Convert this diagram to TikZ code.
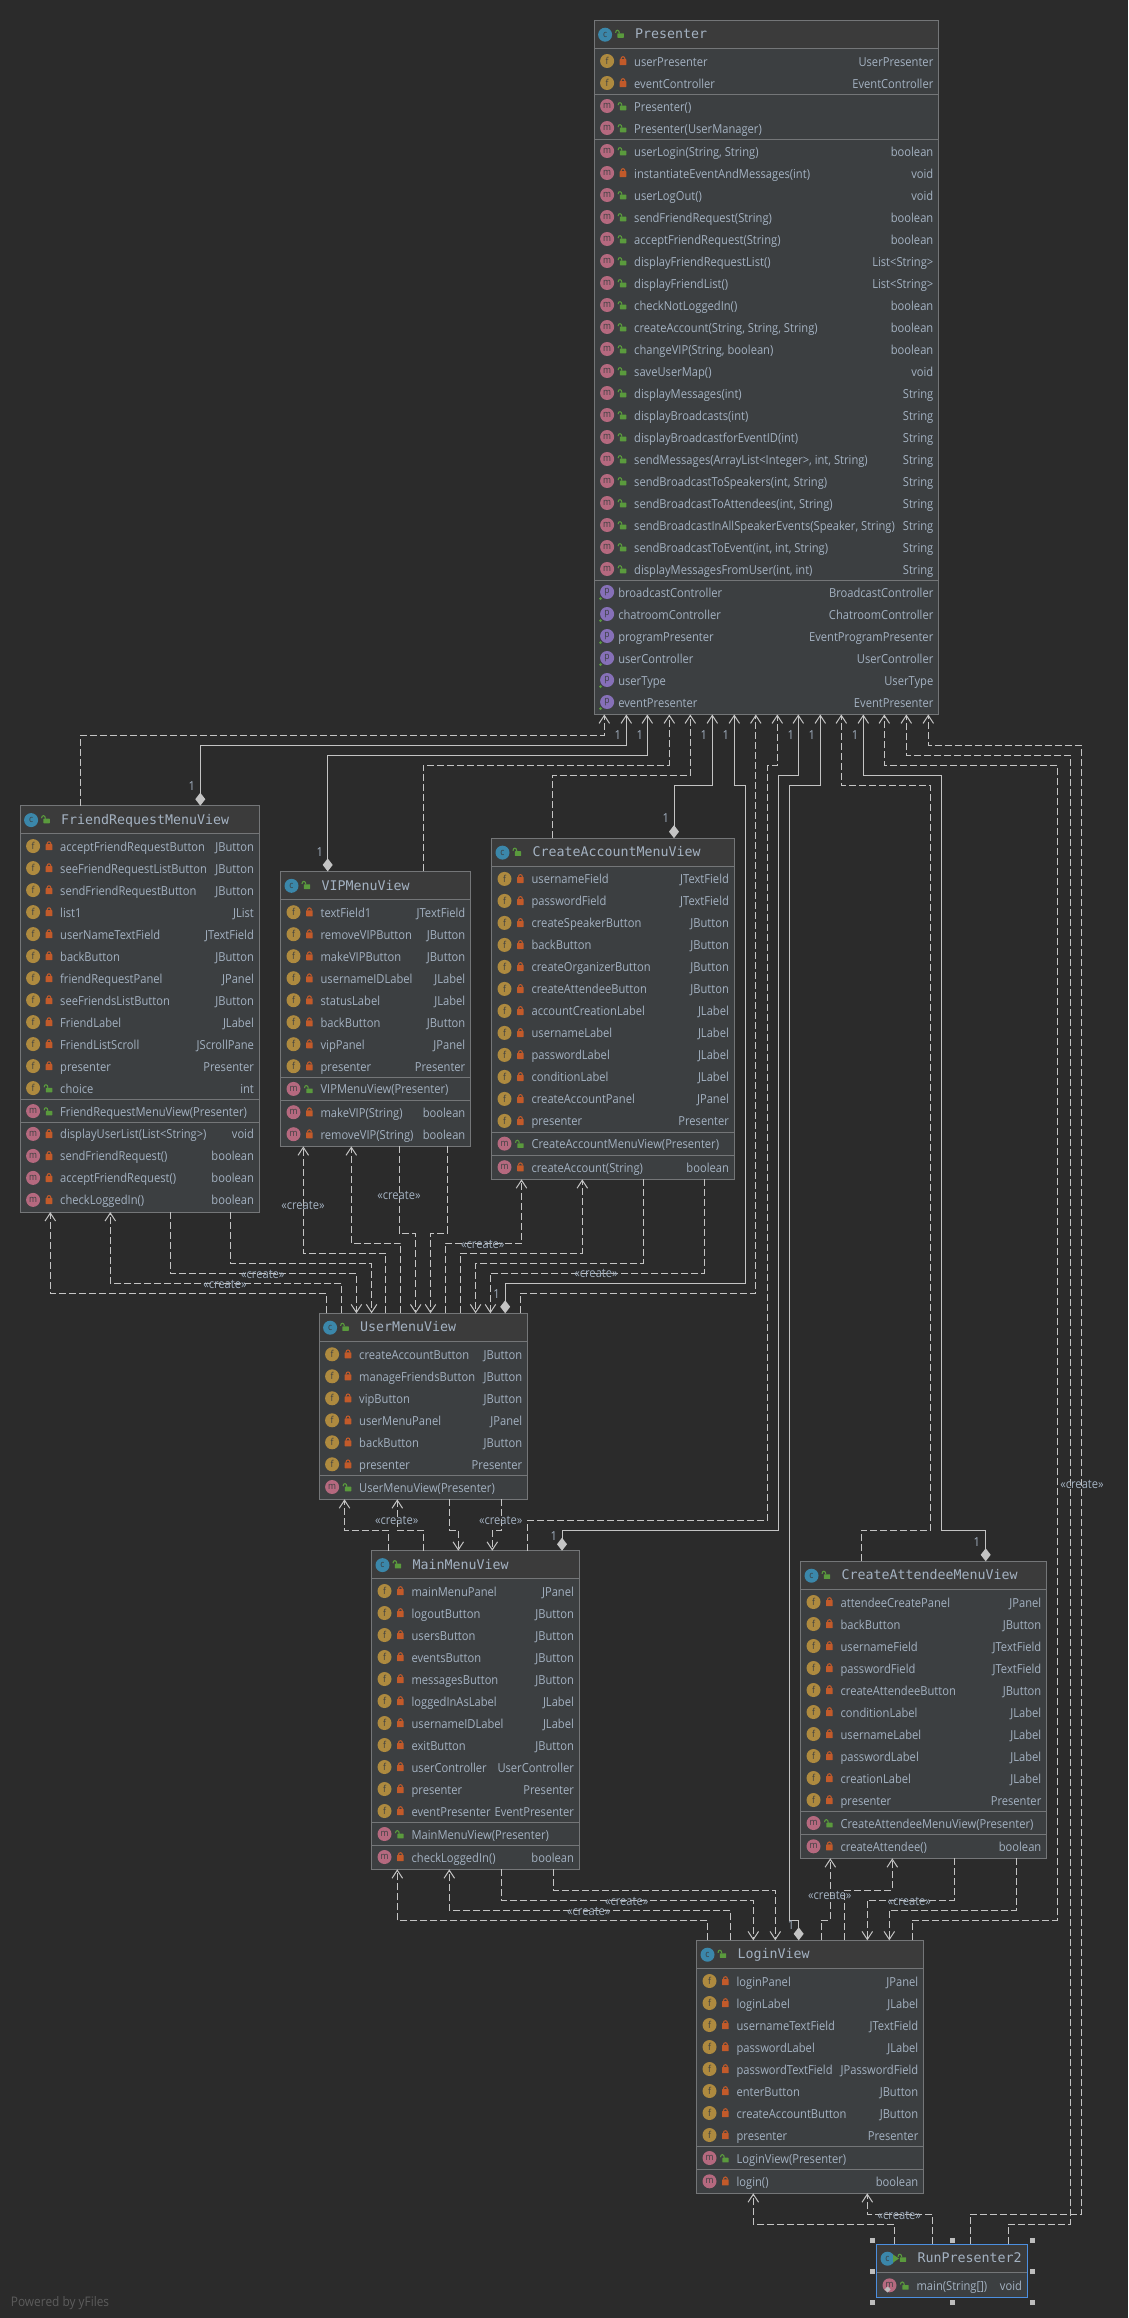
\documentclass[tikz,border=0pt]{standalone}
\usepackage{fontspec}
\setmainfont[FakeStretch=0.9]{Open Sans}
\newfontfamily\titlefont{DejaVu Sans Mono}
\usetikzlibrary{arrows.meta}
\definecolor{bgc}{HTML}{2B2B2B}
\definecolor{bodyc}{HTML}{3C3F41}
\definecolor{headc}{HTML}{3B3B3B}
\definecolor{borderc}{HTML}{747678}
\definecolor{textc}{HTML}{A4B2C2}
\definecolor{edgec}{HTML}{C4C4C4}
\definecolor{footc}{HTML}{5C5C5C}
\definecolor{ficonc}{HTML}{AE8A3F}
\definecolor{miconc}{HTML}{B5697F}
\definecolor{piconc}{HTML}{8670B8}
\definecolor{ciconc}{HTML}{3B87AA}
\definecolor{lockr}{HTML}{C25A2A}
\definecolor{lockg}{HTML}{5A9A3D}
\definecolor{selc}{HTML}{4C8FE0}
\definecolor{handc}{HTML}{BDBDBD}
\newcommand\bodyfont{\fontsize{12.4}{14}\selectfont}
\tikzset{
  x=1pt,y=-1pt,
  classbox/.style={draw=borderc,fill=bodyc,line width=1pt,inner sep=0pt,outer sep=0pt},
  sepline/.style={draw=borderc,line width=1pt},
  rowtext/.style={text=textc,inner sep=0pt,outer sep=0pt,font=\bodyfont},
  titletext/.style={text=textc,inner sep=0pt,outer sep=0pt,anchor=base west,font=\titlefont\fontsize{13.3}{15}\selectfont},
  iconbase/.style={circle,minimum size=14pt,inner sep=0pt,outer sep=0pt,text=bodyc,font=\fontsize{9.5}{10}\selectfont},
  ficon/.style={iconbase,fill=ficonc},
  micon/.style={iconbase,fill=miconc},
  picon/.style={iconbase,fill=piconc},
  cicon/.style={iconbase,fill=ciconc},
  dep/.style={draw=edgec,line width=1pt,dash pattern=on 7pt off 3pt,-{Straight Barb[length=8pt,width=10.5pt,line width=1pt]}},
  comp/.style={draw=edgec,line width=1pt,{Diamond[length=13pt,width=10pt,fill=edgec,line width=0pt]}-{Straight Barb[length=8pt,width=10.5pt,line width=1pt]}},
  edgelabel/.style={text=textc,inner sep=0pt,font=\bodyfont},
  handle/.style={fill=handc,minimum size=5pt,inner sep=0pt,outer sep=0pt},
}
\newcounter{rowid}
\newcommand\lockpri[2]{\begin{scope}[shift={(#1,#2)}]
  \fill[lockr,rounded corners=0.5pt] (-3.3,-2.6) rectangle (3.3,3.4);
  \draw[lockr,line width=1.1pt] (-2,-2.6) .. controls (-2,-5.8) and (2,-5.8) .. (2,-2.6);
\end{scope}}
\newcommand\lockpub[2]{\begin{scope}[shift={(#1,#2)}]
  \fill[lockg,rounded corners=0.5pt] (-2.8,-1) rectangle (3.6,3.6);
  \draw[lockg,line width=1.1pt] (-0.8,-1) .. controls (-0.8,-5) and (-4.6,-5) .. (-4.6,-1.5);
\end{scope}}
\newcommand\vislock[2]{\ifnum#1=0 \lockpri{\bl+28.7}{#2}\else \lockpub{\bl+28.4}{#2}\fi}
\newcommand\nextrow{\pgfmathparse{\ry+22}\xdef\ry{\pgfmathresult}}
\newcommand\setrow[1]{\xdef\ry{#1}}
\newcommand\rowtexts[3]{\stepcounter{rowid}%
  \node[rowtext,anchor=base west] (a\arabic{rowid}) at (\bl+#1,\ry+4.3) {#2};
  \node[rowtext,anchor=base east] (b\arabic{rowid}) at (\br-5.4,\ry+4.3) {#3};}
\newcommand\rF[3]{\rowtexts{39.9}{#2}{#3}
  \node[ficon] (i\arabic{rowid}) at (\bl+12.8,\ry-0.7) {f};
  \vislock{#1}{\ry}\nextrow}
\newcommand\rM[3]{\rowtexts{39.9}{#2}{#3}
  \node[micon] (i\arabic{rowid}) at (\bl+12.8,\ry-0.7) {m};
  \vislock{#1}{\ry}\nextrow}
\newcommand\rP[2]{\rowtexts{24}{#1}{#2}
  \node[picon] (i\arabic{rowid}) at (\bl+12.8,\ry-0.7) {p};
  \fill[lockg] (\bl+6.2,\ry+6) circle (1.5);\nextrow}
\newcommand\umlclass[7]{%
  \pgfmathsetmacro\bw{#3-#2}\pgfmathsetmacro\bh{#6-#4}%
  \node[classbox,anchor=north west,minimum width=\bw pt,minimum height=\bh pt] (#1) at (#2,#4) {};
  \fill[headc] (#2,#4) rectangle (#3,#5);
  \draw[borderc,line width=1pt] (#2,#4) rectangle (#3,#6);
  \draw[sepline] (#2,#5) -- (#3,#5);
  \xdef\bl{#2}\xdef\br{#3}%
  \node[cicon] (#1icon) at (\bl+10.8,#4+14.4) {c};
  \lockpub{\bl+25.9}{#4+14}
  \node[titletext] (#1title) at (\bl+40.8,#4+18.6) {#7};}
\newcommand\sepat[1]{\draw[sepline] (\bl,#1) -- (\br,#1);}
\newcommand\portT[3]{\coordinate (#1) at (#2,0 |- #3.north);}
\newcommand\portB[3]{\coordinate (#1) at (#2,0 |- #3.south);}
\newcommand\route[4]{\draw[#1] (#2) -- (#2 |- 0,#3) -- (#4 |- 0,#3) -- (#4);}
\newcommand\routeV[6]{\draw[#1] (#2) -- (#2 |- 0,#3) -- (#4,#3) -- (#4,#5) -- (#6 |- 0,#5) -- (#6);}
\newcommand\createlabel[3]{\node[edgelabel] (#1) at (#2,#3) {«create»};}
\newcommand\onelabel[3]{\node[edgelabel] (#1) at (#2,#3) {1};}
\begin{document}
\begin{tikzpicture}
\useasboundingbox (0,0) rectangle (1128,2318);
\fill[bgc] (0,0) rectangle (1128,2318);
% Classes
\umlclass{P}{594.3}{938.7}{20.3}{48.3}{714.5}{Presenter}
\setrow{61.7}
\rF{0}{userPresenter}{UserPresenter}
\rF{0}{eventController}{EventController}
\sepat{94.3}
\setrow{106.7}
\rM{1}{Presenter()}{}
\rM{1}{Presenter(UserManager)}{}
\sepat{139}
\setrow{151.7}
\rM{1}{userLogin(String, String)}{boolean}
\rM{0}{instantiateEventAndMessages(int)}{void}
\rM{1}{userLogOut()}{void}
\rM{1}{sendFriendRequest(String)}{boolean}
\rM{1}{acceptFriendRequest(String)}{boolean}
\rM{1}{displayFriendRequestList()}{List<String>}
\rM{1}{displayFriendList()}{List<String>}
\rM{1}{checkNotLoggedIn()}{boolean}
\rM{1}{createAccount(String, String, String)}{boolean}
\rM{1}{changeVIP(String, boolean)}{boolean}
\rM{1}{saveUserMap()}{void}
\rM{1}{displayMessages(int)}{String}
\rM{1}{displayBroadcasts(int)}{String}
\rM{1}{displayBroadcastforEventID(int)}{String}
\rM{1}{sendMessages(ArrayList<Integer>, int, String)}{String}
\rM{1}{sendBroadcastToSpeakers(int, String)}{String}
\rM{1}{sendBroadcastToAttendees(int, String)}{String}
\rM{1}{sendBroadcastInAllSpeakerEvents(Speaker, String)}{String}
\rM{1}{sendBroadcastToEvent(int, int, String)}{String}
\rM{1}{displayMessagesFromUser(int, int)}{String}
\sepat{580.7}
\setrow{592.7}
\rP{broadcastController}{BroadcastController}
\rP{chatroomController}{ChatroomController}
\rP{programPresenter}{EventProgramPresenter}
\rP{userController}{UserController}
\rP{userType}{UserType}
\rP{eventPresenter}{EventPresenter}

\umlclass{FR}{20.3}{259.3}{805.7}{833.6}{1212.1}{FriendRequestMenuView}
\setrow{846.8}
\rF{0}{acceptFriendRequestButton}{JButton}
\rF{0}{seeFriendRequestListButton}{JButton}
\rF{0}{sendFriendRequestButton}{JButton}
\rF{0}{list1}{JList}
\rF{0}{userNameTextField}{JTextField}
\rF{0}{backButton}{JButton}
\rF{0}{friendRequestPanel}{JPanel}
\rF{0}{seeFriendsListButton}{JButton}
\rF{0}{FriendLabel}{JLabel}
\rF{0}{FriendListScroll}{JScrollPane}
\rF{0}{presenter}{Presenter}
\rF{1}{choice}{int}
\sepat{1099.3}
\setrow{1111.8}
\rM{1}{FriendRequestMenuView(Presenter)}{}
\sepat{1122.5}
\setrow{1134.6}
\rM{0}{displayUserList(List<String>)}{void}
\rM{0}{sendFriendRequest()}{boolean}
\rM{0}{acceptFriendRequest()}{boolean}
\rM{0}{checkLoggedIn()}{boolean}

\umlclass{V}{280.7}{470.7}{871.4}{899.3}{1146.4}{VIPMenuView}
\setrow{912.9}
\rF{0}{textField1}{JTextField}
\rF{0}{removeVIPButton}{JButton}
\rF{0}{makeVIPButton}{JButton}
\rF{0}{usernameIDLabel}{JLabel}
\rF{0}{statusLabel}{JLabel}
\rF{0}{backButton}{JButton}
\rF{0}{vipPanel}{JPanel}
\rF{0}{presenter}{Presenter}
\sepat{1077.1}
\setrow{1089.6}
\rM{1}{VIPMenuView(Presenter)}{}
\sepat{1100.4}
\setrow{1112.9}
\rM{0}{makeVIP(String)}{boolean}
\rM{0}{removeVIP(String)}{boolean}

\umlclass{C}{491.7}{734.3}{838.2}{866.4}{1179.3}{CreateAccountMenuView}
\setrow{879.6}
\rF{0}{usernameField}{JTextField}
\rF{0}{passwordField}{JTextField}
\rF{0}{createSpeakerButton}{JButton}
\rF{0}{backButton}{JButton}
\rF{0}{createOrganizerButton}{JButton}
\rF{0}{createAttendeeButton}{JButton}
\rF{0}{accountCreationLabel}{JLabel}
\rF{0}{usernameLabel}{JLabel}
\rF{0}{passwordLabel}{JLabel}
\rF{0}{conditionLabel}{JLabel}
\rF{0}{createAccountPanel}{JPanel}
\rF{0}{presenter}{Presenter}
\sepat{1132.5}
\setrow{1144.3}
\rM{1}{CreateAccountMenuView(Presenter)}{}
\sepat{1155.7}
\setrow{1167.9}
\rM{0}{createAccount(String)}{boolean}

\umlclass{U}{319.3}{527.6}{1313.3}{1341.7}{1499.3}{UserMenuView}
\setrow{1355}
\rF{0}{createAccountButton}{JButton}
\rF{0}{manageFriendsButton}{JButton}
\rF{0}{vipButton}{JButton}
\rF{0}{userMenuPanel}{JPanel}
\rF{0}{backButton}{JButton}
\rF{0}{presenter}{Presenter}
\sepat{1475.7}
\setrow{1487.7}
\rM{1}{UserMenuView(Presenter)}{}

\umlclass{M}{371.7}{579.3}{1550.7}{1578.7}{1869.3}{MainMenuView}
\setrow{1591.7}
\rF{0}{mainMenuPanel}{JPanel}
\rF{0}{logoutButton}{JButton}
\rF{0}{usersButton}{JButton}
\rF{0}{eventsButton}{JButton}
\rF{0}{messagesButton}{JButton}
\rF{0}{loggedInAsLabel}{JLabel}
\rF{0}{usernameIDLabel}{JLabel}
\rF{0}{exitButton}{JButton}
\rF{0}{userController}{UserController}
\rF{0}{presenter}{Presenter}
\rF{0}{eventPresenter}{EventPresenter}
\sepat{1822.3}
\setrow{1834.7}
\rM{1}{MainMenuView(Presenter)}{}
\sepat{1845.7}
\setrow{1857.7}
\rM{0}{checkLoggedIn()}{boolean}

\umlclass{A}{800.7}{1046.7}{1561.3}{1589.3}{1858.3}{CreateAttendeeMenuView}
\setrow{1602.7}
\rF{0}{attendeeCreatePanel}{JPanel}
\rF{0}{backButton}{JButton}
\rF{0}{usernameField}{JTextField}
\rF{0}{passwordField}{JTextField}
\rF{0}{createAttendeeButton}{JButton}
\rF{0}{conditionLabel}{JLabel}
\rF{0}{usernameLabel}{JLabel}
\rF{0}{passwordLabel}{JLabel}
\rF{0}{creationLabel}{JLabel}
\rF{0}{presenter}{Presenter}
\sepat{1811.3}
\setrow{1823.7}
\rM{1}{CreateAttendeeMenuView(Presenter)}{}
\sepat{1834.3}
\setrow{1847}
\rM{0}{createAttendee()}{boolean}

\umlclass{L}{696.7}{923.7}{1940.3}{1968.3}{2193.3}{LoginView}
\setrow{1981.7}
\rF{0}{loginPanel}{JPanel}
\rF{0}{loginLabel}{JLabel}
\rF{0}{usernameTextField}{JTextField}
\rF{0}{passwordLabel}{JLabel}
\rF{0}{passwordTextField}{JPasswordField}
\rF{0}{enterButton}{JButton}
\rF{0}{createAccountButton}{JButton}
\rF{0}{presenter}{Presenter}
\sepat{2146.3}
\setrow{2158.7}
\rM{1}{LoginView(Presenter)}{}
\sepat{2169.3}
\setrow{2182}
\rM{0}{login()}{boolean}

\umlclass{R}{876.7}{1027.3}{2244.3}{2272.3}{2297.3}{RunPresenter2}
\draw[selc,line width=1pt] (876.7,2244.3) rectangle (1027.3,2297.3);
\fill[lockg] (893,2254.5) -- (893,2262.5) -- (899,2258.5) -- cycle;
\setrow{2286}
\rM{1}{main(String[])}{void}
\fill[handc] (884.7,2289.5) -- (887.7,2286.5) -- (890.7,2289.5) -- (887.7,2292.5) -- cycle;
\foreach \hx/\hy [count=\hi] in {872.3/2240.3,952.3/2240.3,1032.3/2240.3,872.3/2271.3,1032.3/2271.3,872.3/2302.3,952.3/2302.3,1032.3/2302.3}
  {\node[handle] (h\hi) at (\hx,\hy) {};}

% Ports on Presenter
\foreach \pk/\px in {1/604.3,2/626.3,3/647.3,4/669.3,5/690.3,6/712.3,7/734.3,8/755.8,9/777.3,10/798.3,11/820.3,12/841.3,13/863.3,14/884.3,15/906.3,16/928.3}
  {\portB{pa\pk}{\px}{P}}
% Ports on the others
\portT{frU}{80.3}{FR}\portT{frD}{200.3}{FR}
\portB{fra}{50.3}{FR}\portB{frb}{110.3}{FR}\portB{frc}{170.3}{FR}\portB{frd}{230.3}{FR}
\portT{vD}{327.7}{V}\portT{vU}{423.3}{V}
\portB{va}{303.3}{V}\portB{vb}{351.3}{V}\portB{vc}{399.3}{V}\portB{vd}{447.3}{V}
\portT{cU}{552.3}{C}\portT{cD}{674}{C}
\portB{ca}{521.5}{C}\portB{cb}{582.3}{C}\portB{cc}{643.3}{C}\portB{cd}{704.3}{C}
\portT{u1}{326.1}{U}\portT{u2}{341.3}{U}\portT{u3}{356.4}{U}\portT{u4}{371.6}{U}
\portT{u5}{385.7}{U}\portT{u6}{400.5}{U}\portT{u7}{415.7}{U}\portT{u8}{430.5}{U}
\portT{u9}{445.3}{U}\portT{u10}{460.4}{U}\portT{u11}{475.6}{U}\portT{u12}{490.4}{U}
\portT{uD}{505.2}{U}\portT{uU}{520.4}{U}
\portB{ua}{344.5}{U}\portB{ub}{397.3}{U}\portB{uc}{449.6}{U}\portB{ud}{501.6}{U}
\portT{m1}{388.3}{M}\portT{m2}{423.3}{M}\portT{m3}{458.3}{M}\portT{m4}{492.3}{M}
\portT{mU}{527.3}{M}\portT{mD}{562}{M}
\portB{ma}{397.3}{M}\portB{mb}{449.3}{M}\portB{mc}{501.3}{M}\portB{md}{553.3}{M}
\portT{aU}{861.3}{A}\portT{aD}{985.7}{A}
\portB{aa}{830.3}{A}\portB{ab}{892.3}{A}\portB{ac}{954.3}{A}\portB{ad}{1016.3}{A}
\portT{l1}{707.3}{L}\portT{l2}{730.3}{L}\portT{l3}{753.3}{L}\portT{l4}{775.3}{L}
\portT{lD}{798.7}{L}\portT{l5}{821.3}{L}\portT{l6}{844.3}{L}\portT{l7}{867.3}{L}
\portT{l8}{889.3}{L}\portT{lU}{912.3}{L}
\portB{la}{753.3}{L}\portB{lb}{867.3}{L}
\portT{r1}{894.3}{R}\portT{r2}{932.3}{R}\portT{rU2}{970.3}{R}\portT{rU1}{1008.3}{R}

% Connectors to Presenter
\route{dep}{frU}{735.4}{pa1}
\route{comp}{frD}{745.4}{pa2}
\route{comp}{vD}{755.4}{pa3}
\route{dep}{vU}{765.4}{pa4}
\route{dep}{cU}{775.4}{pa5}
\route{comp}{cD}{785.4}{pa6}
\routeV{comp}{uD}{1283.3}{745.7}{785.4}{pa7}
\route{dep}{uU}{1293.3}{pa8}
\routeV{dep}{mU}{1520.3}{767.3}{765.4}{pa9}
\routeV{comp}{mD}{1530.3}{778.3}{775.4}{pa10}
\routeV{comp}{lD}{1920.3}{789.3}{785.4}{pa11}
\routeV{dep}{aU}{1530.3}{930.7}{785.4}{pa12}
\routeV{comp}{aD}{1530.3}{941.3}{775.4}{pa13}
\routeV{dep}{lU}{1920.3}{1057.3}{765.4}{pa14}
\routeV{dep}{rU1}{2224.3}{1070.3}{755.4}{pa15}
\routeV{dep}{rU2}{2214.3}{1081.7}{745.4}{pa16}
% Around UserMenuView
\route{dep}{u1}{1293.3}{fra}
\route{dep}{u2}{1283.3}{frb}
\route{dep}{frc}{1273.3}{u3}
\route{dep}{frd}{1263.3}{u4}
\route{dep}{u5}{1253.3}{va}
\route{dep}{u6}{1243.3}{vb}
\route{dep}{vc}{1233.3}{u7}
\route{dep}{vd}{1233.3}{u8}
\route{dep}{u9}{1243.3}{ca}
\route{dep}{u10}{1253.3}{cb}
\route{dep}{cc}{1263.3}{u11}
\route{dep}{cd}{1273.3}{u12}
\route{dep}{m1}{1530.3}{ua}
\route{dep}{m2}{1530.3}{ub}
\route{dep}{uc}{1530.3}{m3}
\route{dep}{ud}{1530.3}{m4}
% Around LoginView
\route{dep}{l1}{1920.3}{ma}
\route{dep}{l2}{1910.3}{mb}
\route{dep}{mc}{1900.3}{l3}
\route{dep}{md}{1890.3}{l4}
\route{dep}{l5}{1920.3}{aa}
\route{dep}{l6}{1890.3}{ab}
\route{dep}{ac}{1900.3}{l7}
\route{dep}{ad}{1910.3}{l8}
\route{dep}{r1}{2224.3}{la}
\route{dep}{r2}{2214.3}{lb}

% Labels
\foreach \oi/\ox/\oy in {1/617.7/735,2/639.7/735,3/703.7/735,4/725.7/735,5/790.7/735,6/811.7/735,7/855/735,8/191.7/785.7,9/319.7/851.8,10/665.7/818.2,11/496.6/1293.7,12/553.7/1535.7,13/976.7/1541.7,14/791/1925}
  {\onelabel{one\oi}{\ox}{\oy}}
\foreach \ci/\cx/\cy in {1/303/1205,2/399/1195,3/225/1284,4/262.8/1274,5/482.8/1244,6/596/1273,7/396.7/1520,8/500.7/1520,9/626.7/1901,10/588.8/1911,11/829.8/1895.3,12/909.3/1901,13/1082/1484,14/899.3/2215}
  {\createlabel{cr\ci}{\cx}{\cy}}
\node[text=footc,inner sep=0pt,anchor=base west,font=\fontsize{13.2}{15}\selectfont] (foot) at (10.7,2306) {Powered by yFiles};
\end{tikzpicture}
\end{document}
